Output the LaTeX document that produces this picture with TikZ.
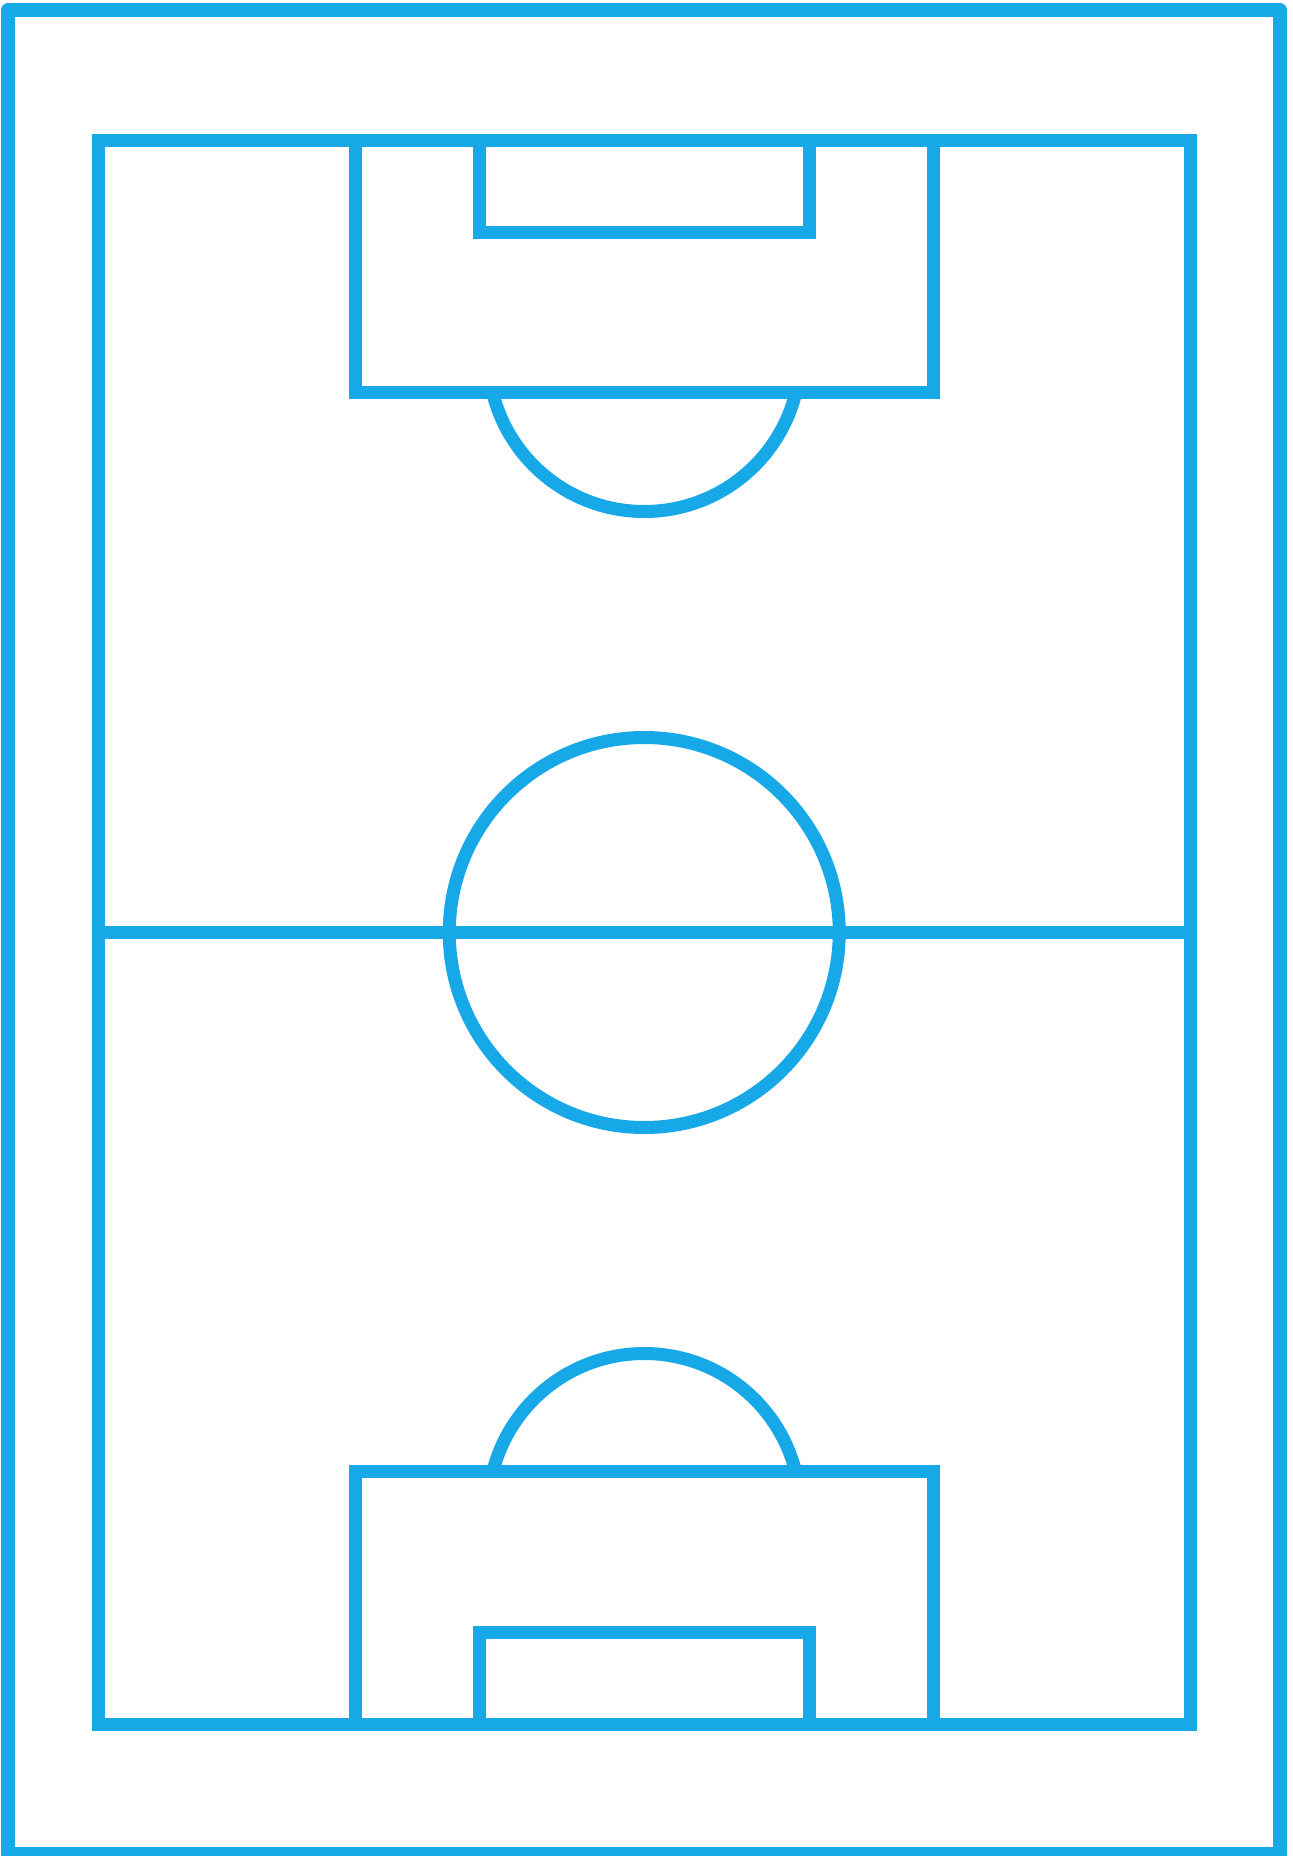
\documentclass[tikz,border=0pt]{standalone}
\definecolor{pitch}{RGB}{23,169,231}
\begin{document}
\begin{tikzpicture}[x=1pt,y=-1pt,
  pline/.style={draw=pitch,line width=13pt,line join=miter},
  border/.style={draw=pitch,line width=14pt,line join=round}]
\useasboundingbox (0,0) rectangle (1293,1856);
% outer border
\draw[border] (8,10) rectangle (1280,1854);
% field
\draw[pline] (98.5,140.5) rectangle (1190,1724.5);
% halfway line
\draw[pline] (98.5,932.5) -- (1190,932.5);
% centre circle
\draw[pline] (644.25,932.5) circle[radius=195];
% top penalty area and goal area
\draw[pline] (355.5,140.5) -- (355.5,392.5) -- (933,392.5) -- (933,140.5);
\draw[pline] (479,140.5) -- (479,232) -- (809.5,232) -- (809.5,140.5);
% bottom penalty area and goal area
\draw[pline] (355.5,1724.5) -- (355.5,1471.5) -- (933,1471.5) -- (933,1724.5);
\draw[pline] (479,1724.5) -- (479,1632.5) -- (809.5,1632.5) -- (809.5,1724.5);
% penalty arcs
\begin{scope}
  \clip (0,392.5) rectangle (1293,900);
  \draw[pline] (644.25,355.5) circle[radius=156];
\end{scope}
\begin{scope}
  \clip (0,960) rectangle (1293,1471.5);
  \draw[pline] (644.25,1509.5) circle[radius=156];
\end{scope}
\end{tikzpicture}
\end{document}
